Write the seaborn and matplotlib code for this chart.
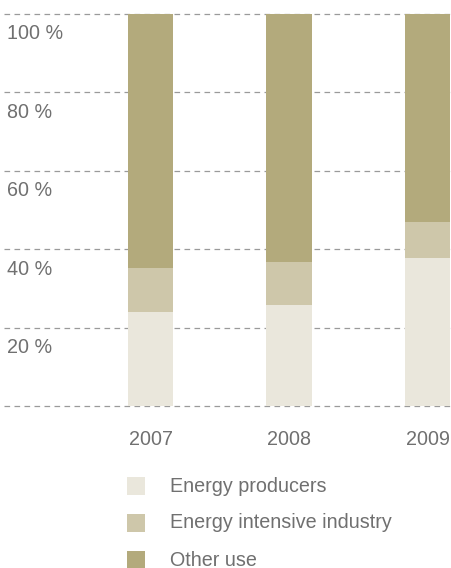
import matplotlib
matplotlib.use("Agg")
import matplotlib.pyplot as plt
from matplotlib.patches import Rectangle
import matplotlib.transforms as mtransforms
import seaborn as sns
import pandas as pd
import numpy as np

years = ["2007", "2008", "2009"]
energy_producers = [24.0, 25.7, 37.7]
energy_intensive = [11.2, 11.0, 9.2]
other_use = [64.8, 63.3, 53.1]
series_names = ["Energy producers", "Energy intensive industry", "Other use"]
colors = ["#EAE7DC", "#CEC7AA", "#B3AA7C"]
yticks = [20, 40, 60, 80, 100]
ytick_labels = ["20 %", "40 %", "60 %", "80 %", "100 %"]

sns.set_theme(style="white")
plt.rcParams["font.family"] = ["Liberation Sans", "DejaVu Sans"]

W, H = 452, 568
fig = plt.figure(figsize=(W / 100, H / 100), dpi=100)

FS = 14.2

# axes geometry in pixels
px_per = 3.925
y0_px = 406.0
ymin, ymax = -1.0, 101.0
top_px = y0_px - ymax * px_per
bot_px = y0_px - ymin * px_per
left_px, right_px = 4.0, 452.0
ax = fig.add_axes([left_px / W, 1 - bot_px / H, (right_px - left_px) / W, (bot_px - top_px) / H])

df = pd.DataFrame({"year": years, "p": energy_producers, "i": energy_intensive, "o": other_use})
df["c1"] = df["p"]
df["c2"] = df["p"] + df["i"]
df["c3"] = df["p"] + df["i"] + df["o"]

for col, c in zip(["c3", "c2", "c1"], colors[::-1]):
    sns.barplot(data=df, x="year", y=col, color=c, width=0.325, ax=ax,
                saturation=1, edgecolor="none", linewidth=0, zorder=2)

# x range
unit = 138.5
ax.set_xlim(-(150.5 - left_px) / unit, 2 + (right_px - 427.5) / unit)
ax.set_ylim(ymin, ymax)

for v in [0] + yticks:
    ax.axhline(v, color="#9a9a9a", lw=0.9, ls=(0, (4.5, 3.5)), zorder=1)

for sp in ax.spines.values():
    sp.set_visible(False)
ax.set_yticks([])
ax.set_ylabel("")
ax.set_xlabel("")
ax.tick_params(axis="x", length=0, pad=14.5, labelsize=FS, labelcolor="#707070")

trans = mtransforms.blended_transform_factory(ax.transAxes, ax.transData)
for v, lab in zip(yticks, ytick_labels):
    ax.text(3 / (right_px - left_px), v - 5.2, lab, transform=trans, ha="left", va="center",
            fontsize=FS, color="#707070")

# legend
rows_y = [486, 523, 560]
for yc, name, c in zip(rows_y, series_names, colors):
    fig.patches.append(Rectangle((127 / W, 1 - (yc + 9) / H), 18 / W, 18 / H,
                                 transform=fig.transFigure, facecolor=c, edgecolor="none"))
    fig.text(170 / W, 1 - yc / H, name, ha="left", va="center", fontsize=FS, color="#707070")

fig.savefig("out.png", dpi=100)
